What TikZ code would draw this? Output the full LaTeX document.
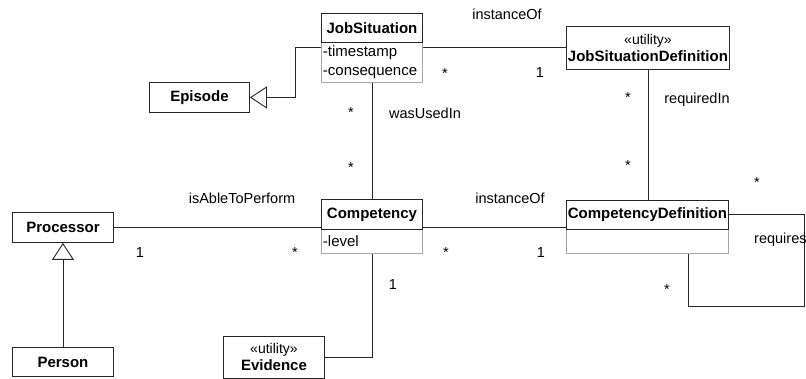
\documentclass[tikz,border=0pt]{standalone}
\usepackage{fontspec}
\setmainfont{Liberation Sans}
\usetikzlibrary{calc,arrows.meta}
\tikzset{
  cls/.style={draw=black!85, line width=0.9pt, anchor=north west, inner sep=0pt, font=\bfseries\fontsize{15}{17}\selectfont},
  attr/.style={draw=black!35, line width=0.9pt, anchor=north west, inner sep=1.5pt, align=left, font=\fontsize{15}{19}\selectfont},
  lbl/.style={font=\fontsize{14.5}{16}\selectfont, inner sep=0pt},
  assoc/.style={draw=black!85, line width=0.9pt},
  gen/.style={assoc, -{Triangle[open,length=17pt,width=22pt]}}
}

\begin{document}
\begin{tikzpicture}[x=1pt, y=-1pt]
			%%%%% START %%%%%
			\useasboundingbox (0, 0) rectangle (806, 379);
			\clip (0, 0) rectangle (806, 379);
			
			% compartments
			\node[attr, text width=98pt, minimum height=40pt] (jobsitattr) at (321, 42) {-timestamp\\-consequence};
			\node[attr, text width=98pt, minimum height=24pt] (compattr) at (321, 229) {-level};
			\node[attr, minimum width=162pt, minimum height=24pt] (compdefattr) at (566, 229) {};
			
			% classes
			\node[cls, minimum width=101pt, minimum height=29pt] (jobsit) at (321, 13) {JobSituation};
			\node[cls, minimum width=163pt, minimum height=43pt, align=center] (jsdef) at (566, 26) {{\mdseries\fontsize{14}{17}\selectfont «utility»}\\JobSituationDefinition};
			\node[cls, minimum width=100pt, minimum height=30pt] (episode) at (149, 82) {Episode};
			\node[cls, minimum width=101pt, minimum height=30pt] (processor) at (12, 212) {Processor};
			\node[cls, minimum width=101pt, minimum height=29pt] (person) at (12, 347) {Person};
			\node[cls, minimum width=101pt, minimum height=30pt] (comp) at (321, 199) {Competency};
			\node[cls, minimum width=162pt, minimum height=29pt] (compdef) at (566, 200) {CompetencyDefinition};
			\node[cls, minimum width=101pt, minimum height=42pt, align=center] (evidence) at (223, 336) {{\mdseries\fontsize{14}{16}\selectfont «utility»}\\Evidence};
			
			% generalizations
			\draw[gen] (jobsitattr.west |- jsdef.west) -- ++(-26, 0) |- (episode.east);
			\draw[gen] (person.north) -- (processor.south);
			
			% associations
			\draw[assoc] (jobsitattr.east |- jsdef.west) -- (jsdef.west);
			\draw[assoc] (jobsitattr.south) -- (comp.north);
			\draw[assoc] (jsdef.south) -- (jsdef.south |- compdef.north);
			\draw[assoc] (processor.east) -- (processor.east -| comp.west);
			\draw[assoc] (comp.east |- processor.east) -- (compdef.west |- processor.east);
			\draw[assoc] (evidence.east) -| (compattr.south);
			\coordinate (loopend) at ($(compdefattr.south west)!0.75!(compdefattr.south east)$);
			\draw[assoc] (compdef.east) -| (804, 306) -| (loopend);
			
			% labels
			\node[lbl] (instOfTop) at (507, 14) {instanceOf};
			\node[lbl] (wasUsed) at (425, 113) {wasUsedIn};
			\node[lbl] (reqIn) at (697, 100) {requiredIn};
			\node[lbl] (ableTo) at (242, 198) {isAbleToPerform};
			\node[lbl] (instOfMid) at (510, 198) {instanceOf};
			\node[lbl, anchor=west] (requires) at (754, 240) {requires};
			
			% multiplicities
			\node[lbl] (m1) at (445, 74) {*};
			\node[lbl] (m2) at (540, 73) {1};
			\node[lbl] (m3) at (351, 113) {*};
			\node[lbl] (m4) at (351, 168) {*};
			\node[lbl] (m5) at (628, 98) {*};
			\node[lbl] (m6) at (628, 166) {*};
			\node[lbl] (m7) at (757, 183) {*};
			\node[lbl] (m8) at (140, 253) {1};
			\node[lbl] (m9) at (295, 253) {*};
			\node[lbl] (m10) at (446, 253) {*};
			\node[lbl] (m11) at (541, 253) {1};
			\node[lbl] (m12) at (393, 285) {1};
			\node[lbl] (m13) at (667, 290) {*};
			
			%%%%% END %%%%%
\end{tikzpicture}
\end{document}
